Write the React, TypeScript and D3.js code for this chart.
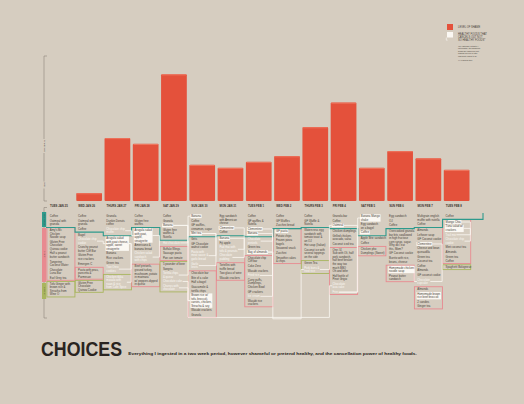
import React from "react";
import * as d3 from "d3";

const days = [
  "TUES JAN 25", "WED JAN 26", "THURS JAN 27", "FRI JAN 28", "SAT JAN 29",
  "SUN JAN 30", "MON JAN 31", "TUES FEB 1", "WED FEB 2", "THURS FEB 3",
  "FRI FEB 4", "SAT FEB 5", "SUN FEB 6", "MON FEB 7", "TUES FEB 8",
];

// level of shame, 0-100
const shame = [0, 5.5, 43.5, 39.5, 87.5, 25, 23, 27, 31, 51, 68, 23, 34.5, 29.5, 21.5];

// meal code (b breakfast, s in between, p lunch + snacks, g dinner),
// mark (+ healthy, - cancelled out, . plain), then text with | as line break
const menus: string[][] = [
  ["b.Coffee", "b.Oatmeal with|granola", "p.Amy's Mc|Chicken|Noodle soup", "p.Gluten Free|Chocolate|Quinoa cookie", "p.Half a peanut|butter sandwich", "p.Tangerine|Coconut Water", "p.Chocolate|Luna Bar", "p.Earl Grey tea", "g.Tofu Ginger with|brown rice &|Sriracha from|Wine O"],
  ["b.Coffee", "b.Oatmeal with|granola", "b.Coffee", "s.Bagel", "s-Chocolate chip|cookie", "s.Crunchy peanut|butter Cliff Bar", "s.Gluten Free|rice crackers", "s.Emergen C", "p.Pasta with peas,|pancetta &|Parmesan", "g.Gluten Free|Chocolate|Quinoa Cookie"],
  ["b.Granola", "b.Dunkin Donuts|coffee", "b-Chocolate chip|muffin", "s+Arugula salad|with goat cheese,|apple, sweet|vinaigrette", "s.Banana", "s.Rice crackers", "s.Green tea", "s-Two Oreo|cookies", "g-Chicken tikka|masala with|naan & rice|from Cafe Spice"],
  ["b.Coffee", "b.Gluten free|waffles", "s+Arugula salad|with goat,|apple,|vinaigrette", "s.Americano &|banana bread", "s-Chicken salad|sandwich|with chips", "p.Beef pretzels,|ground turkey,|mushroom, potato|in marinara|w/ peppers dipped|in queso"],
  ["b.Coffee", "b.Granola", "b+Banana", "b.Gluten free|waffles &|Nutella", "s-Hot chocolate", "p.Buffalo Wings", "p.Sausage pasta", "p.Pan con tomate", "g.5 pounder of beer", "g.Sangria", "g-Tortilla chips|& queso", "g-Chocolate cake", "g-Churros with|chocolate"],
  ["b+Banana", "b.Coffee", "b.GF waffles,|cinnamon, sugar", "b+Mint tea", "s.Grits", "s.GF Chocolate|walnut cookie", "s-Pasta with|meat sauce &|garlic bread", "s-Garlic|knots", "p.Chocolate bar", "p.Bite of a cake", "p.Half a bagel", "p.Guacamole &|tortilla chips", "p+Brown rice w/|tofu, broccoli,|carrots, chicken,|Sriracha & soy", "p.Wasabi crackers", "p.Granola"],
  ["b.Egg sandwich|with American|cheese", "b+Clementine", "b.Coffee", "s+Banana", "s.Fiji apple", "s-Pad thai with|tofu & peanuts", "s-Chocolate|pudding", "p.Tortellini with|truffle bread", "p.Two glass of wine", "p.Wasabi crackers"],
  ["b.Coffee", "b.GF waffles &|Nutella", "b+Clementine", "b+Banana", "s-Chocolate|pretzels", "s.Green tea", "s+Bag of almonds", "p.Chocolate chip|Cliff bar", "p.Coke Zero", "p.Wasabi crackers", "p-Fried rice", "p.Curry puffs,|Dumplings,|Chicken Bowl", "p.GF crackers", "p-Ice cream", "p.Wasabi rice|crackers"],
  ["b.Coffee", "b.GF Waffles", "b.Zucchini bread", "p+GF pasta", "p.Potato chips", "p.Frozen pizza|bagels", "p.Seaweed snack", "p.Zucchini", "p.Smoothie cakes|& chips"],
  ["b.Coffee", "b.GF Waffle &|Nutella", "s.Watercress egg|sandwich with|tomato toast &|an OJ", "s.Hot soup (Italian)", "s.Coconut ice with|several toppings|on the side", "g.Green Tea", "g-Pork buns &|fried rice"],
  ["b.Granola bar", "b.Coffee", "b+Oatmeal", "s.Chicken dumplings", "s.Grilled chicken,|avocado, salsa", "s.Coconut iced tea", "p.One #4|Sub with Oli, half|pork sandwich,|half beef brisket|the way too|much BBQ|Oh and beer", "p.Half bottle of|Pinot Grigio", "p-Chocolate|lava cake", "p-Fries"],
  ["b+Banana Mango|shake", "b.Egg sandwich|on a bagel", "b+Coffee", "s.Apple Brie sandwich", "s.Coffee", "p.Chicken pho", "p.Dumplings (Sweet)"],
  ["b.Egg sandwich", "b.OJ", "b.Coffee", "s.Overcooked granola|bar bits swallowed|in high fructose|corn syrup, sugar.|Why do I eat|this, Mom?", "s.GF Coconut cookie", "s.Burrito with rice,|beans, cheese", "p+Homemade chicken|noodle soup", "p.Peanut butter|sandwich"],
  ["b.Multigrain english|muffin with nutella", "b.Coffee", "s.Almonds", "s.Leftover soup", "s.GF Coconut cookie", "s+Clementine", "s.Cheese and bean|quesadilla", "s.Green tea", "s.Coconut tea", "s.Coffee", "s.Almonds", "s.GF coconut cookie", "s-Chocolate|cupcake", "p.Almonds", "p+Homemade brown|rice beef broccoli", "p.2 candies", "p.Ginger tea"],
  ["b.Coffee", "p+Mango Chia", "p+Tuna salad w/|crackers", "p-Trail mix", "p-Chocolate chip|cookie", "p.Mint coconut tea", "p.Almonds", "p.Green tea", "p.Coffee", "g.Spaghetti Bolognese"],
];

// healthy item -> the item it cancels: [day, item, day, item]
const cancels: number[][] = [
  [2, 3, 1, 4], [2, 3, 2, 7], [2, 3, 2, 8], [3, 2, 2, 2], [3, 2, 3, 4],
  [4, 2, 4, 4], [5, 0, 4, 10], [5, 3, 5, 6], [5, 3, 5, 7], [5, 12, 4, 11],
  [5, 12, 4, 12], [6, 1, 6, 5], [6, 3, 6, 6], [7, 2, 7, 4], [7, 3, 7, 10],
  [7, 6, 7, 13], [4, 2, 10, 8], [7, 6, 9, 6], [10, 2, 10, 9], [10, 2, 9, 6],
  [11, 0, 10, 9], [12, 6, 13, 12], [13, 5, 13, 12], [14, 1, 14, 3], [14, 2, 14, 4],
];

const legendLabels = ["LEVEL OF SHAME", "HEALTHY FOODS THAT|CANCELS OUT NOT|SO HEALTHY FOODS*"];
const legendNote = ["*My rationale is that if I", "eat healthy, the shameful", "foods are cancelled out,", "making me feel a little", "less guilty about it all.", "", "**All figures true"];
const shameLabels = ["MEH", "SHAMEFUL"];
const mealLabels = ["BREAKFAST", "LUNCH", "DINNER"];
const title = "CHOICES";
const subtitle = "Everything I ingested in a two week period, however shameful or pretend healthy, and the cancellation power of healthy foods.";

const BG = "#d6cdc0";
const RED = "#e4513b";
const TEAL = "#2e9a8c";
const PINK = "#e88a90";
const OLIVE = "#a9b55e";
const INK = "#463e37";
const PAPER = "#fbf8f3";
const FONT = '"Liberation Sans", Arial, sans-serif';
const FS = 2.8;
const LH = 3.55;
const GAP = 1.05;

const ctx = typeof document !== "undefined" ? document.createElement("canvas").getContext("2d") : null;
function measure(s: string, size: number, bold = false) {
  if (!ctx) return s.length * size * 0.5;
  ctx.font = `${bold ? "bold " : ""}${size * 10}px "Liberation Sans"`;
  return ctx.measureText(s).width / 10;
}

const x = d3.scaleBand<string>().domain(days).range([48, 469.5]).paddingInner(0.09).paddingOuter(0);
const y = d3.scaleLinear().domain([0, 100]).range([201, 56]);
const bw = x.bandwidth();

type Item = { meal: string; mark: string; lines: string[]; base: number[]; x0: number; w: number; top: number; bottom: number };

function layoutDay(list: string[], d: number) {
  const bx = x(days[d])!;
  const items: Item[] = [];
  let yy = 217;
  let prev = "";
  let teal = 0;
  list.forEach((raw, i) => {
    const meal = raw[0];
    const mark = raw[1];
    const lines = raw.slice(2).split("|");
    if (i > 0) {
      if (meal !== prev && prev === "b") {
        teal = yy + 2.4;
        yy = teal + 3.4;
      } else if (meal !== prev) yy += LH + GAP + 1.4;
      else yy += LH + GAP;
    }
    const base = lines.map((_, k) => yy + k * LH);
    yy = base[base.length - 1];
    const w = Math.max(...lines.map((l) => measure(l, FS)));
    items.push({ meal, mark, lines, base, x0: bx + 1.8, w, top: base[0] - 2.7, bottom: yy + 1.1 });
    prev = meal;
  });
  // pink and green boxes around runs of the same meal
  const boxes: { meal: string; y0: number; y1: number }[] = [];
  items.forEach((it, i) => {
    if (it.meal !== "p" && it.meal !== "g") return;
    const last = boxes[boxes.length - 1];
    if (last && last.meal === it.meal && items[i - 1].meal === it.meal) last.y1 = it.base[it.base.length - 1] + 1.5;
    else boxes.push({ meal: it.meal, y0: it.base[0] - 3.3, y1: it.base[it.base.length - 1] + 1.5 });
  });
  return { bx, items, teal, boxes };
}

const cols = menus.map((m, d) => layoutDay(m, d));

function tealPath() {
  let p = `M46,${cols[0].teal}`;
  cols.forEach((c, d) => {
    const xr = c.bx + bw + 1.3;
    if (d > 0) p += `V${c.teal}`;
    p += `H${d === cols.length - 1 ? 483 : xr}`;
  });
  return p + "V213";
}

function linkPath(l: number[], k: number) {
  const [sd, si, td, ti] = l;
  const s = cols[sd].items[si];
  const t = cols[td].items[ti];
  const sMid = (s.top + s.bottom) / 2;
  const tMid = (t.top + t.bottom) / 2;
  const sRight = s.x0 + s.w + 0.8;
  const sLeft = s.x0 - 0.8;
  const tRight = t.x0 + t.w + 0.4;
  const tLeft = t.x0 - 0.4;
  if (sd === td) {
    const cx = cols[sd].bx + bw + 0.9;
    return `M${sRight},${sMid}H${cx}V${tMid}H${tRight}`;
  }
  if (Math.abs(sd - td) === 1) {
    if (td > sd) {
      const cx = cols[sd].bx + bw + 1.2;
      return `M${sRight},${sMid}H${cx}V${tMid}H${tLeft}`;
    }
    const cx = cols[sd].bx - 1.3;
    return `M${sLeft},${sMid}H${cx}V${tMid}H${tRight}`;
  }
  const cy = 316 + (k % 3) * 1.4;
  if (td > sd) {
    const c1 = cols[sd].bx + bw + 1.2;
    const c2 = cols[td].bx - 1.3;
    return `M${sRight},${sMid}H${c1}V${cy}H${c2}V${tMid}H${tLeft}`;
  }
  const c1 = cols[sd].bx - 1.3;
  const c2 = cols[td].bx + bw + 1.2;
  return `M${sLeft},${sMid}H${c1}V${cy}H${c2}V${tMid}H${tRight}`;
}

export default function App() {
  const mealBlocks = [
    { color: TEAL, y0: 212, y1: 227 },
    { color: PINK, y0: 228, y1: 282 },
    { color: OLIVE, y0: 283, y1: 299 },
  ];
  return (
    <svg width={524} height={404} style={{ position: "absolute", left: 0, top: 0 }} fontFamily={FONT}>
      <rect width={524} height={404} fill={BG} />

      {/* shame axis */}
      <path d={`M47,${y(100)}H44V${y(0)}H47`} fill="none" stroke="#8e857a" strokeWidth={0.6} />
      {shameLabels.map((t, i) => {
        const cy = i === 0 ? 185 : 146;
        const w = measure(t, 2.2);
        return (
          <g key={t}>
            <rect x={42.5} y={cy - w / 2 - 1} width={3} height={w + 2} fill={BG} />
            <text transform={`translate(44.8,${cy}) rotate(-90)`} textAnchor="middle" fontSize={2.2} fill={INK}>{t}</text>
          </g>
        );
      })}

      {/* bars */}
      {days.map((d, i) =>
        shame[i] > 0 ? (
          <g key={d}>
            <rect x={x(d)} y={y(shame[i])} width={bw} height={y(0) - y(shame[i])} rx={1} fill={RED} />
            <rect x={x(d)! + 0.6} y={y(shame[i]) + 0.3} width={bw - 1.2} height={0.9} fill="#ef7a63" />
          </g>
        ) : null
      )}
      {days.map((d) => (
        <text key={d} x={x(d)! + 2} y={206.8} fontSize={2.8} fontWeight="bold" fill="#3a322b">{d}</text>
      ))}

      {/* meal axis */}
      <path d="M47,207.5H44V318H47" fill="none" stroke="#8e857a" strokeWidth={0.6} />
      {mealBlocks.map((b, i) => (
        <g key={i}>
          <rect x={42} y={b.y0} width={4.2} height={b.y1 - b.y0} fill={b.color} />
          <text transform={`translate(45,${(b.y0 + b.y1) / 2}) rotate(-90)`} textAnchor="middle" fontSize={2} fill={INK}>{mealLabels[i]}</text>
        </g>
      ))}

      {/* lunch and dinner boxes */}
      {cols.map((c, d) =>
        c.boxes.map((b, j) => (
          <rect key={`${d}-${j}`} x={c.bx - 1.1} y={b.y0} width={bw + 2.3} height={b.y1 - b.y0}
            fill="none" stroke={b.meal === "p" ? PINK : OLIVE} strokeWidth={0.9} />
        ))
      )}

      {/* breakfast line */}
      <path d={tealPath()} fill="none" stroke={TEAL} strokeWidth={1.1} />

      {/* cancellation links */}
      {cancels.map((l, k) => (
        <path key={k} d={linkPath(l, k)} fill="none" stroke={PAPER} strokeWidth={0.8} />
      ))}

      {/* food */}
      {cols.map((c, d) =>
        c.items.map((it, i) => (
          <g key={`${d}-${i}`}>
            {it.mark === "+" && (
              <rect x={it.x0 - 0.8} y={it.top} width={it.w + 1.6} height={it.bottom - it.top} fill={PAPER} />
            )}
            {it.lines.map((ln, k) => (
              <text key={k} x={it.x0} y={it.base[k]} fontSize={FS} fill={it.mark === "-" ? PAPER : INK}>{ln}</text>
            ))}
          </g>
        ))
      )}

      {/* legend */}
      <rect x={447} y={24} width={6} height={6} fill={RED} />
      <rect x={447} y={32} width={6} height={5.5} fill={PAPER} />
      <path d="M446.3,37.5V40.2H447.6" fill="none" stroke={PAPER} strokeWidth={0.6} />
      <text x={458} y={28} fontSize={2.6} fill={INK}>{legendLabels[0]}</text>
      {legendLabels[1].split("|").map((t, i) => (
        <text key={t} x={458} y={34.5 + i * 3} fontSize={2.6} fill={INK}>{t}</text>
      ))}
      {legendNote.map((t, i) => (
        <text key={i} x={458} y={47 + i * 2.4} fontSize={2} fill={INK}>{t}</text>
      ))}

      {/* title */}
      <text x={41} y={356} fontSize={19.5} fontWeight="bold" fill="#2a2420" textLength={81} lengthAdjust="spacingAndGlyphs">{title}</text>
      <text x={128.3} y={355} fontSize={3.3} fontWeight="bold" fill="#2a2420" textLength={288.5} lengthAdjust="spacingAndGlyphs">{subtitle}</text>
    </svg>
  );
}
